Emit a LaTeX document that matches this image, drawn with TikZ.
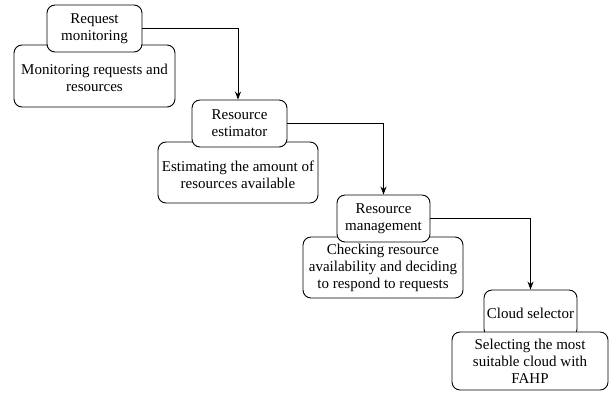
\documentclass[tikz,border=0pt]{standalone}
\usepackage{fontspec}
\setmainfont{Liberation Serif}
\usetikzlibrary{arrows.meta}
\begin{document}
\begin{tikzpicture}[x=1pt,y=-1pt,
  box/.style={draw,rounded corners=8pt,line width=0.9pt,fill=white,align=center,
    inner sep=0pt,font=\rmfamily\fontsize{15}{17}\selectfont},
  conn/.style={line width=0.9pt,-{Stealth[length=8pt,width=6pt]}}]
\useasboundingbox (0,0) rectangle (609,392);
% step 1
\node[box,minimum width=161pt,minimum height=62pt] (d1) at (94.5,76) {\\[-2pt]Monitoring requests and\\resources};
\node[box,minimum width=95pt,minimum height=47pt] (s1) at (94.5,28.5) {Request\\monitoring};
% step 2
\node[box,minimum width=160pt,minimum height=61pt] (d2) at (238,172.5) {\\[-2pt]Estimating the amount of\\resources available};
\node[box,minimum width=95pt,minimum height=47pt] (s2) at (239.5,123.5) {Resource\\estimator};
% step 3
\node[box,minimum width=160pt,minimum height=61pt] (d3) at (383,267.5) {Checking resource\\availability and deciding\\to respond to requests};
\node[box,minimum width=93pt,minimum height=47pt] (s3) at (383.5,218.5) {Resource\\management};
% step 4
\node[box,minimum width=93pt,minimum height=47pt] (s4) at (530.5,313.5) {Cloud selector};
\node[box,minimum width=156pt,minimum height=58pt] (d4) at (530,361) {Selecting the most\\suitable cloud with\\FAHP};
% connectors
\draw[conn] (s1.east) -| ([xshift=-1.5pt]s2.north);
\draw[conn] (s2.east) -| (s3.north);
\draw[conn] (s3.east) -| (s4.north);
\end{tikzpicture}
\end{document}
